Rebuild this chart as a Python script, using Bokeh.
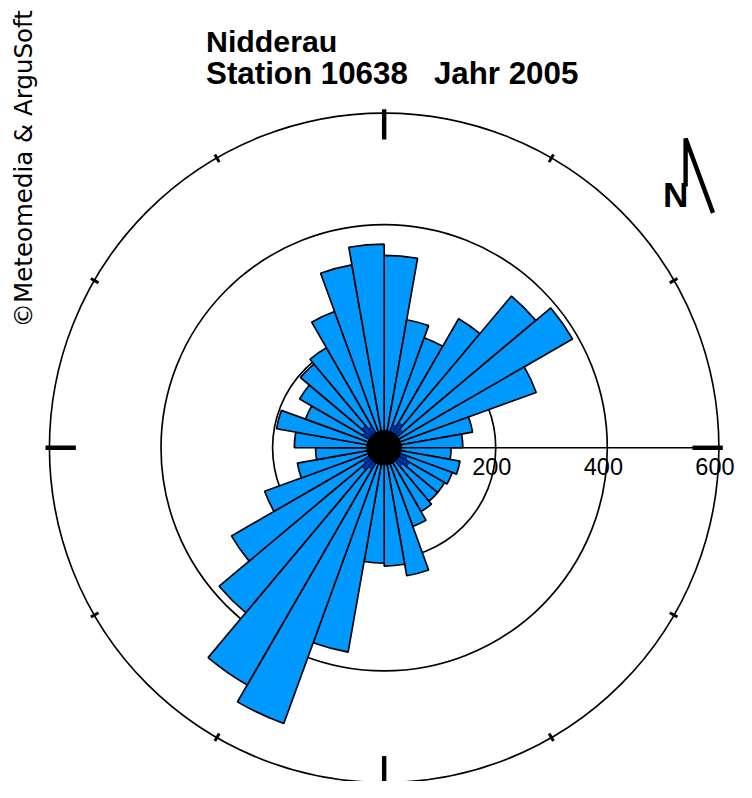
import math
from bokeh.plotting import figure
from bokeh.models import Range1d, ColumnDataSource
from bokeh.core.properties import value
from bokeh.embed import file_html
from bokeh.resources import INLINE

# ---------------- data ----------------
sector_start = list(range(0, 360, 10))          # compass degrees, 10° sectors
outer_counts = [345, 233, 210, 267, 355, 390, 290, 161, 141,
                120, 138, 130, 125, 125, 132, 150, 233, 212,
                207, 372, 526, 491, 386, 316, 228, 158, 123,
                161, 196, 150, 175, 196, 207, 260, 333, 365]
inner_counts = [30, 30, 44, 52, 44, 30, 30, 30, 30,
                30, 30, 44, 52, 44, 30, 30, 30, 30,
                30, 30, 30, 44, 52, 44, 30, 30, 30,
                30, 30, 30, 44, 52, 44, 30, 30, 30]
ring_values = [200, 400, 600]
ring_labels = ["200", "400", "600"]
title1 = "Nidderau"
title2 = "Station 10638\u00a0\u00a0\u00a0Jahr 2005"
credit = "\u00a9Meteomedia & ArguSoft"

# ---------------- layout ----------------
W, H = 736, 781
K = W / 752.0            # figure px per reference px
U = 0.57                 # reference px per data unit
RCX, RCY = 392, 457      # rose centre in reference px

def sx(X):  # reference px -> data x
    return (X - RCX) / U

def sy(Y):  # reference px -> data y
    return (RCY - Y) / U

def px(v):  # reference px size -> figure px
    return v * K

p = figure(width=W, height=H,
           x_range=Range1d(sx(0), sx(W / K)),
           y_range=Range1d(sy(H / K), sy(0)),
           output_backend="svg", toolbar_location=None,
           x_axis_location=None, y_axis_location=None, min_border=0)
p.grid.visible = False
p.outline_line_color = None
p.background_fill_color = "white"

# rings
p.circle(x=[0] * len(ring_values), y=[0] * len(ring_values), radius=ring_values,
         fill_color=None, line_color="black", line_width=px(1.7))

# east axis line
p.segment(x0=[0], y0=[0], x1=[ring_values[-1]], y1=[0], line_color="black",
          line_width=px(1.7))

# ticks on outer ring
R = ring_values[-1]
tx0, ty0, tx1, ty1 = [], [], [], []
bx0, by0, bx1, by1 = [], [], [], []
for a in range(0, 360, 30):
    t = math.radians(90 - a)
    if a % 90 == 0:
        r0, r1 = R - 27 / U, R + 4 / U
        bx0.append(r0 * math.cos(t)); by0.append(r0 * math.sin(t))
        bx1.append(r1 * math.cos(t)); by1.append(r1 * math.sin(t))
    else:
        r0, r1 = R - 5 / U, R + 4 / U
        tx0.append(r0 * math.cos(t)); ty0.append(r0 * math.sin(t))
        tx1.append(r1 * math.cos(t)); ty1.append(r1 * math.sin(t))
p.segment(x0=bx0, y0=by0, x1=bx1, y1=by1, line_color="black", line_width=px(4.5))
p.segment(x0=tx0, y0=ty0, x1=tx1, y1=ty1, line_color="black", line_width=px(3))

# ring labels
p.text(x=ring_values, y=[sy(467)] * 3, text=ring_labels, text_align="center",
       text_baseline="top", x_offset=px(-4), text_font=value("Liberation Sans"),
       text_font_size=f"{px(24):.1f}px", text_color="black")

# wind-rose bars
start = [math.radians(90 - d - 10) for d in sector_start]
end = [math.radians(90 - d) for d in sector_start]
src = ColumnDataSource(dict(r=outer_counts, s=start, e=end, ri=inner_counts))
p.wedge(x=0, y=0, radius="r", start_angle="s", end_angle="e", source=src,
        fill_color="#0099ff", line_color="black", line_width=px(1.7))
p.wedge(x=0, y=0, radius="ri", start_angle="s", end_angle="e", source=src,
        fill_color="#003399", line_color="#001a66", line_width=px(1.0))
p.circle(x=[0], y=[0], radius=[31], fill_color="black", line_color="black")

# titles
p.text(x=[sx(210)], y=[sy(25)], text=[title1], text_baseline="top",
       text_font=value("Liberation Sans"), text_font_style="bold",
       text_font_size=f"{px(31):.1f}px", text_color="black")
p.text(x=[sx(210)], y=[sy(57)], text=[title2], text_baseline="top",
       text_font=value("Liberation Sans"), text_font_style="bold",
       text_font_size=f"{px(32):.1f}px", text_color="black")

# credit (vertical, reading bottom to top)
p.text(x=[sx(9)], y=[sy(334)], text=[credit], angle=math.pi / 2,
       text_align="left", text_baseline="top",
       text_font=value("DejaVu Sans"), text_font_size=f"{px(25):.1f}px",
       text_color="black")

# north symbol
p.text(x=[sx(677)], y=[sy(178)], text=["N"], text_baseline="top",
       text_font=value("Liberation Sans"), text_font_style="bold",
       text_font_size=f"{px(36):.1f}px", text_color="black")
p.line(x=[sx(700), sx(700), sx(728)], y=[sy(190), sy(141), sy(217)],
       line_color="black", line_width=px(4.5))

open("out.html", "w").write(file_html(p, INLINE))
